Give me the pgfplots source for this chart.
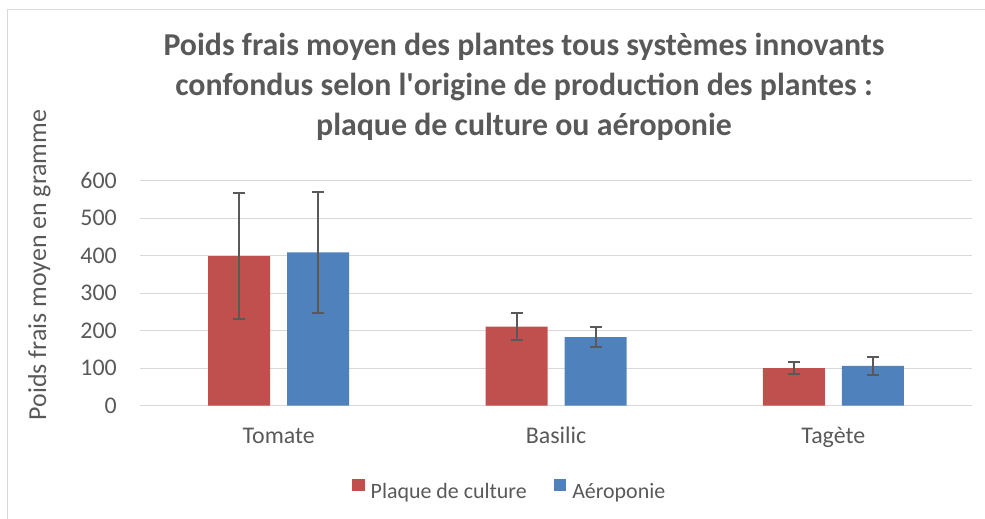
\documentclass[border=0pt]{standalone}
\usepackage{fontspec}
\setmainfont{Carlito}
\usepackage{pgfplots}
\pgfplotsset{compat=1.18}
\definecolor{redbar}{HTML}{C0504D}
\definecolor{bluebar}{HTML}{4F81BD}
\definecolor{txt}{HTML}{595959}
\definecolor{gridc}{HTML}{D9D9D9}
\begin{document}
\begin{tikzpicture}[x=1bp,y=1bp]
\path[use as bounding box] (0,0) rectangle (985,519);
\draw[gridc, line width=1.5bp] (7.5,0) -- (7.5,509.5) -- (985,509.5);
\node[anchor=base, text=txt, font=\fontsize{32}{38}\selectfont\bfseries] at (524,463.3) {Poids frais moyen des plantes tous systèmes innovants};
\node[anchor=base, text=txt, font=\fontsize{32}{38}\selectfont\bfseries] at (524,423.3) {confondus selon l\textquotesingle origine de production des plantes :};
\node[anchor=base, text=txt, font=\fontsize{32}{38}\selectfont\bfseries] at (524,383.3) {plaque de culture ou aéroponie};
\node[anchor=base, rotate=90, text=txt, font=\fontsize{26}{30}\selectfont] at (46,254) {Poids frais moyen en gramme};
\begin{axis}[
  at={(140bp,113.3bp)}, anchor=south west,
  scale only axis, width=832bp, height=225bp,
  xmin=-0.5, xmax=2.5, ymin=0, ymax=600,
  enlargelimits=false,
  ybar=17bp, bar width=62bp,
  xtick={0,1,2}, xticklabels={Tomate,Basilic,Tagète},
  ytick={0,100,...,600},
  major tick length=0pt,
  axis line style={draw=none},
  ymajorgrids, grid style={gridc, line width=1.3bp},
  /pgf/number format/assume math mode=true,
  tick label style={text=txt, font=\fontsize{24}{28}\selectfont, inner sep=0pt},
  yticklabel style={anchor=east, xshift=-23bp},
  xticklabel style={anchor=base, yshift=-38.3bp},
  error bars/y dir=both, error bars/y explicit,
  error bars/error bar style={color=txt, line width=2bp},
  error bars/error mark options={rotate=90, mark size=6bp, line width=2bp, color=txt},
  legend columns=2,
  legend image code/.code={\fill[#1] (0bp,0bp) rectangle (12.5bp,12.5bp);},
  legend style={at={(axis description cs:0.2548,-0.372)}, anchor=west, draw=none, fill=none, inner sep=0pt,
    nodes={inner sep=0pt, text=txt, font=\fontsize{22}{26}\selectfont},
    /tikz/every odd column/.append style={column sep=6bp},
    /tikz/every even column/.append style={column sep=27bp}},
]
\addplot[fill=redbar, draw=none] coordinates {
  (0,399) +- (0,169)
  (1,211) +- (0,35)
  (2,100) +- (0,16)
};
\addlegendentry{Plaque de culture}
\addplot[fill=bluebar, draw=none] coordinates {
  (0,409) +- (0,161)
  (1,183) +- (0,27)
  (2,106) +- (0,25)
};
\addlegendentry{Aéroponie}
\end{axis}
\end{tikzpicture}
\end{document}
